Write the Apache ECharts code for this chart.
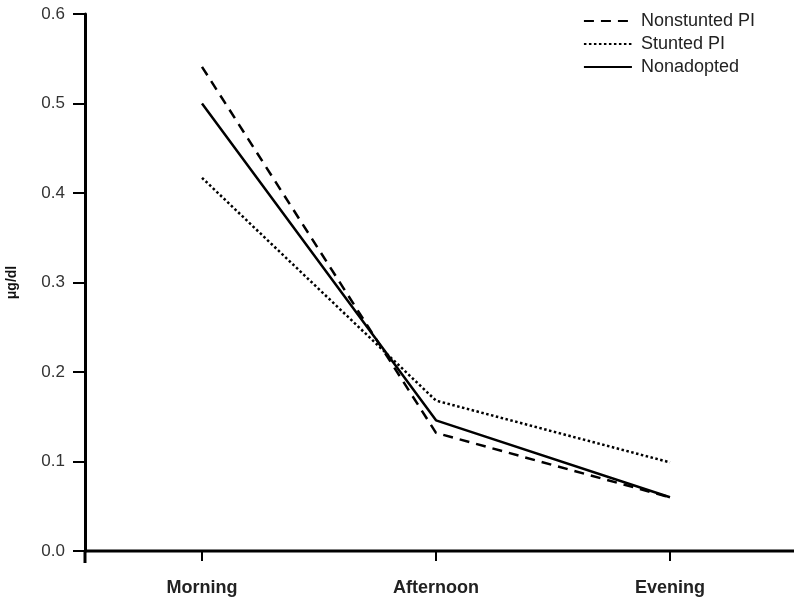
<!DOCTYPE html>
<html><head><meta charset="utf-8">
<script src="https://cdn.jsdelivr.net/npm/echarts@6/dist/echarts.min.js"></script>
<style>html,body{margin:0;padding:0;background:#fff}#c{width:800px;height:602px}</style>
</head><body><div id="c"></div>
<script>
var categories = ['Morning', 'Afternoon', 'Evening'];
var nonstunted = [0.541, 0.132, 0.060];
var stunted = [0.417, 0.168, 0.099];
var nonadopted = [0.500, 0.146, 0.060];
var seriesNames = ['Nonstunted PI', 'Stunted PI', 'Nonadopted'];

var chart = echarts.init(document.getElementById('c'));
var font = 'Liberation Sans, Arial, sans-serif';
var gridLeft = 85, gridRightPad = 13;
chart.setOption({
  animation: false,
  backgroundColor: '#fff',
  grid: {left: gridLeft, right: gridRightPad, top: 14, bottom: 51, containLabel: false, outerBoundsMode: 'none'},
  legend: {
    right: 40, top: 7, orient: 'vertical', itemGap: 5, itemWidth: 48, itemHeight: 18,
    itemStyle: {color: 'transparent', borderWidth: 0, opacity: 0},
    textStyle: {fontFamily: font, fontSize: 18, color: '#222', padding: [0, 0, 0, 4]},
    data: seriesNames
  },
  xAxis: {
    type: 'category', data: categories, boundaryGap: true,
    axisLine: {show: false},
    axisTick: {show: true, alignWithLabel: true, length: 10, lineStyle: {color: '#000', width: 2}},
    axisLabel: {fontFamily: font, fontSize: 18, fontWeight: 'bold', color: '#222', margin: 28},
    splitLine: {show: false}
  },
  yAxis: {
    type: 'value', min: 0, max: 0.6, interval: 0.1,
    name: 'μg/dl', nameLocation: 'middle', nameGap: 66, nameRotate: 90,
    nameTextStyle: {fontFamily: font, fontSize: 14, fontWeight: 'bold', color: '#111'},
    axisLine: {show: true, lineStyle: {color: '#000', width: 3}},
    axisTick: {show: true, length: 12, lineStyle: {color: '#000', width: 2}},
    axisLabel: {fontFamily: font, fontSize: 17, color: '#333', margin: 20,
      formatter: function (v) { return v.toFixed(1); }},
    splitLine: {show: false}
  },
  series: [
    {name: seriesNames[0], type: 'line', data: nonstunted, symbol: 'none',
     lineStyle: {color: '#000', width: 2.5, type: [10, 7]}, itemStyle: {color: '#000'}},
    {name: seriesNames[1], type: 'line', data: stunted, symbol: 'none',
     lineStyle: {color: '#000', width: 2.5, type: [2.5, 2.5]}, itemStyle: {color: '#000'}},
    {name: seriesNames[2], type: 'line', data: nonadopted, symbol: 'none',
     lineStyle: {color: '#000', width: 2.5, type: 'solid'}, itemStyle: {color: '#000'}}
  ]
});
var y0 = chart.convertToPixel({yAxisIndex: 0}, 0);
var c0 = chart.convertToPixel({xAxisIndex: 0}, 0), c1 = chart.convertToPixel({xAxisIndex: 0}, 1);
var xL = c0 - (c1 - c0) / 2;
chart.setOption({
  graphic: [
    {type: 'line', shape: {x1: xL, y1: y0 - 1, x2: xL, y2: y0 + 12}, style: {stroke: '#000', lineWidth: 3}, z: 10},
    {type: 'line', shape: {x1: xL, y1: y0, x2: 794, y2: y0}, style: {stroke: '#000', lineWidth: 3}, z: 10}
  ]
});
</script></body></html>
